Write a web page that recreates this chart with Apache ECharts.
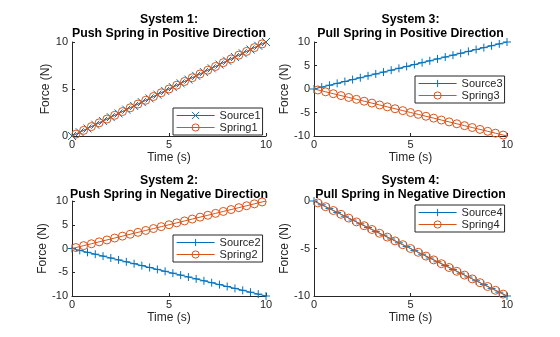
<!DOCTYPE html>
<html><head><meta charset="utf-8">
<script src="https://cdn.jsdelivr.net/npm/echarts@6/dist/echarts.min.js"></script>
<style>html,body{margin:0;padding:0;background:#fff}#c{width:560px;height:337px}</style>
</head><body><div id="c"></div>
<script>
// Time samples (s)
const tSource = [0,0.4,0.8,1.2,1.6,2,2.4,2.8,3.2,3.6,4,4.4,4.8,5.2,5.6,6,6.4,6.8,7.2,7.6,8,8.4,8.8,9.2,9.6,10];
const tSpring = [0,0.2,0.6,1,1.4,1.8,2.2,2.6,3,3.4,3.8,4.2,4.6,5,5.4,5.8,6.2,6.6,7,7.4,7.8,8.2,8.6,9,9.4,9.8,10];
// Force values (N)
const source1 = [0,0.4,0.8,1.2,1.6,2,2.4,2.8,3.2,3.6,4,4.4,4.8,5.2,5.6,6,6.4,6.8,7.2,7.6,8,8.4,8.8,9.2,9.6,10];
const spring1 = [0,0.2,0.6,1,1.4,1.8,2.2,2.6,3,3.4,3.8,4.2,4.6,5,5.4,5.8,6.2,6.6,7,7.4,7.8,8.2,8.6,9,9.4,9.8,10];
const source2 = [0,-0.4,-0.8,-1.2,-1.6,-2,-2.4,-2.8,-3.2,-3.6,-4,-4.4,-4.8,-5.2,-5.6,-6,-6.4,-6.8,-7.2,-7.6,-8,-8.4,-8.8,-9.2,-9.6,-10];
const spring2 = [0,0.2,0.6,1,1.4,1.8,2.2,2.6,3,3.4,3.8,4.2,4.6,5,5.4,5.8,6.2,6.6,7,7.4,7.8,8.2,8.6,9,9.4,9.8,10];
const source3 = [0,0.4,0.8,1.2,1.6,2,2.4,2.8,3.2,3.6,4,4.4,4.8,5.2,5.6,6,6.4,6.8,7.2,7.6,8,8.4,8.8,9.2,9.6,10];
const spring3 = [0,-0.2,-0.6,-1,-1.4,-1.8,-2.2,-2.6,-3,-3.4,-3.8,-4.2,-4.6,-5,-5.4,-5.8,-6.2,-6.6,-7,-7.4,-7.8,-8.2,-8.6,-9,-9.4,-9.8,-10];
const source4 = [0,-0.4,-0.8,-1.2,-1.6,-2,-2.4,-2.8,-3.2,-3.6,-4,-4.4,-4.8,-5.2,-5.6,-6,-6.4,-6.8,-7.2,-7.6,-8,-8.4,-8.8,-9.2,-9.6,-10];
const spring4 = [0,-0.2,-0.6,-1,-1.4,-1.8,-2.2,-2.6,-3,-3.4,-3.8,-4.2,-4.6,-5,-5.4,-5.8,-6.2,-6.6,-7,-7.4,-7.8,-8.2,-8.6,-9,-9.4,-9.8,-10];
const titles = [
  'System 1:\nPush Spring in Positive Direction',
  'System 2:\nPush Spring in Negative Direction',
  'System 3:\nPull Spring in Positive Direction',
  'System 4:\nPull Spring in Negative Direction'
];
const sourceNames = ['Source1','Source2','Source3','Source4'];
const springNames = ['Spring1','Spring2','Spring3','Spring4'];
const sourceVals = [source1, source2, source3, source4];
const springVals = [spring1, spring2, spring3, spring4];
const yMins = [0, -10, -10, -10];
const yMaxs = [10, 10, 10, 0];

const BLUE = '#0072BD', ORANGE = '#D95319', AX = '#262626';
const FONT = 'Liberation Sans, Arial, sans-serif';
const grids = [
  {left: 72, top: 42, width: 194, height: 94},
  {left: 72, top: 201, width: 194, height: 95},
  {left: 314, top: 42, width: 193, height: 94},
  {left: 314, top: 201, width: 193, height: 95}
];
const legendPos = [
  {left: 173, top: 108},
  {left: 173, top: 235},
  {left: 415, top: 76},
  {left: 415, top: 205}
];
const titleY = [26.5, 187.5, 26.5, 187.5];
const sourceSym = [
  'path://M0,0L10,10M10,0L0,10',
  'path://M5,0L5,10M0,5L10,5',
  'path://M5,0L5,10M0,5L10,5',
  'path://M5,0L5,10M0,5L10,5'
];

const chart = echarts.init(document.getElementById('c'), null, {renderer: 'canvas'});
const option = {
  backgroundColor: '#fff',
  animation: false,
  textStyle: {fontFamily: FONT},
  grid: grids.map(g => Object.assign({containLabel: false}, g)),
  xAxis: grids.map((g, i) => ({
    gridIndex: i, type: 'value', min: 0, max: 10, interval: 5,
    name: 'Time (s)', nameLocation: 'middle', nameGap: 16,
    nameTextStyle: {color: AX, fontSize: 12, fontFamily: FONT},
    axisLine: {onZero: false, lineStyle: {color: AX, width: 1}},
    axisTick: {inside: true, length: 3, lineStyle: {color: AX}},
    axisLabel: {color: AX, fontSize: 11, margin: 3, fontFamily: FONT},
    splitLine: {show: false}
  })),
  yAxis: grids.map((g, i) => ({
    gridIndex: i, type: 'value', min: yMins[i], max: yMaxs[i], interval: 5,
    name: 'Force (N)', nameLocation: 'middle', nameGap: 19,
    nameTextStyle: {color: AX, fontSize: 12, fontFamily: FONT},
    axisLine: {show: true, onZero: false, lineStyle: {color: AX, width: 1}},
    axisTick: {show: true, inside: true, length: 3, lineStyle: {color: AX}},
    axisLabel: {color: AX, fontSize: 11, margin: 4, fontFamily: FONT},
    splitLine: {show: false}
  })),
  legend: legendPos.map((p, i) => ({
    data: [
      {name: sourceNames[i], lineStyle: {color: BLUE, width: 1.2},
       itemStyle: {color: BLUE, borderColor: BLUE, borderWidth: 1}},
      {name: springNames[i], lineStyle: {color: ORANGE, width: 1.2},
       itemStyle: {color: 'rgba(0,0,0,0)', borderColor: ORANGE, borderWidth: 1}}
    ],
    orient: 'vertical', left: p.left, top: p.top,
    padding: [2, 2, 2, 3], itemGap: 1, itemWidth: 38, itemHeight: 9,
    borderColor: AX, borderWidth: 1, backgroundColor: '#fff',
    textStyle: {color: AX, fontSize: 11, fontFamily: FONT},
    selectedMode: false
  })),
  graphic: titles.map((t, i) => ({
    type: 'text',
    x: grids[i].left + grids[i].width / 2, y: titleY[i],
    style: {text: t, textAlign: 'center', textVerticalAlign: 'middle',
      font: 'bold 12.3px ' + FONT, fill: '#000', lineHeight: 14}
  })),
  series: []
};
for (let i = 0; i < 4; i++) {
  option.series.push({
    name: sourceNames[i], type: 'line', xAxisIndex: i, yAxisIndex: i,
    data: tSource.map((t, k) => [t, sourceVals[i][k]]),
    symbol: sourceSym[i], symbolSize: 8, showAllSymbol: true,
    lineStyle: {color: BLUE, width: 1},
    itemStyle: {color: BLUE, borderColor: BLUE, borderWidth: 1},
    emphasis: {disabled: true}, z: 2
  });
  option.series.push({
    name: springNames[i], type: 'line', xAxisIndex: i, yAxisIndex: i,
    data: tSpring.map((t, k) => {
      const item = {value: [t, springVals[i][k]]};
      if (k === 0 || k === tSpring.length - 1) item.symbol = 'none';
      return item;
    }),
    symbol: 'circle', symbolSize: 8, showAllSymbol: true,
    lineStyle: {color: ORANGE, width: 1},
    itemStyle: {color: 'rgba(0,0,0,0)', borderColor: ORANGE, borderWidth: 1, opacity: 1},
    emphasis: {disabled: true}, z: 3
  });
}
chart.setOption(option);
</script>
</body></html>
